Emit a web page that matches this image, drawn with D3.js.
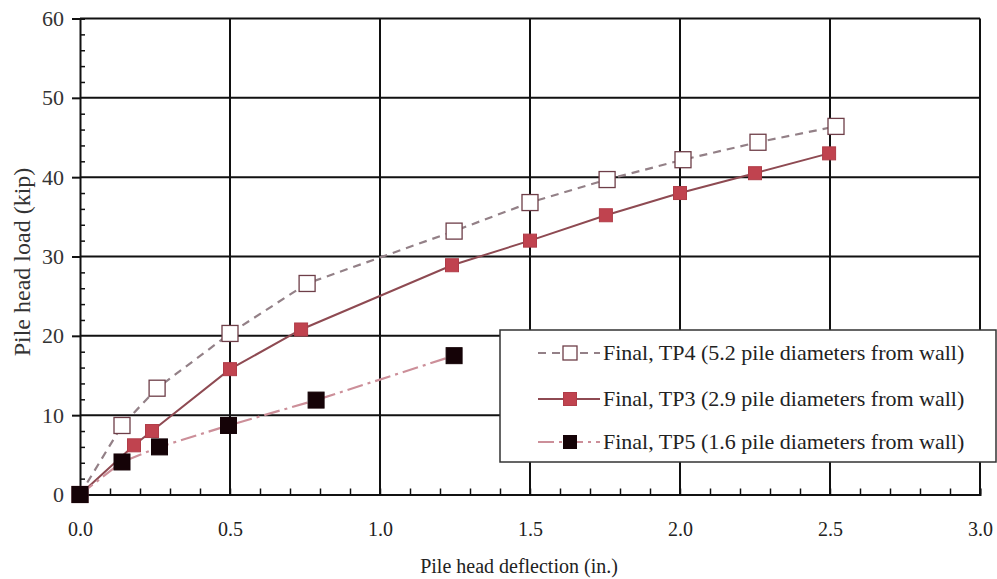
<!DOCTYPE html>
<html><head><meta charset="utf-8">
<script src="https://cdn.jsdelivr.net/npm/d3@7"></script>
<style>body{margin:0;background:#fff}svg{display:block}text{font-family:"Liberation Serif","DejaVu Serif",serif}</style>
</head><body>
<script>
// ---- data ----
const xTicks = [0, 0.5, 1.0, 1.5, 2.0, 2.5, 3.0];
const yTicks = [0, 10, 20, 30, 40, 50, 60];
const tp4X = [0, 0.14, 0.257, 0.5, 0.757, 1.247, 1.5, 1.757, 2.01, 2.26, 2.52];
const tp4Y = [0, 8.7, 13.4, 20.3, 26.6, 33.2, 36.8, 39.7, 42.2, 44.4, 46.4];
const tp3X = [0, 0.18, 0.24, 0.5, 0.737, 1.24, 1.5, 1.753, 2.0, 2.25, 2.497];
const tp3Y = [0, 6.2, 8.0, 15.8, 20.8, 28.9, 32.0, 35.2, 38.0, 40.5, 43.0];
const tp5X = [0, 0.14, 0.265, 0.495, 0.787, 1.247];
const tp5Y = [0, 4.1, 6.0, 8.7, 11.9, 17.5];
const legendLabels = [
  "Final, TP4 (5.2 pile diameters from wall)",
  "Final, TP3 (2.9 pile diameters from wall)",
  "Final, TP5 (1.6 pile diameters from wall)"
];
const xTitle = "Pile head deflection (in.)";
const yTitle = "Pile head load (kip)";

// ---- drawing ----
const W = 997, H = 579;
const svg = d3.select("body").append("svg").attr("width", W).attr("height", H);
const x = d3.scaleLinear().domain([0, 3]).range([80, 980]);
const y = d3.scaleLinear().domain([0, 60]).range([494.5, 18.5]);
const serif = '"Liberation Serif", "DejaVu Serif", serif';

// grid
const grid = svg.append("g").attr("stroke", "#111").attr("stroke-width", 2);
xTicks.slice(1).forEach(t => grid.append("line").attr("x1", x(t)).attr("x2", x(t)).attr("y1", y(0)).attr("y2", y(60)));
yTicks.slice(1).forEach(t => grid.append("line").attr("x1", x(0)).attr("x2", x(3)).attr("y1", y(t)).attr("y2", y(t)));

// axes
const xAxis = svg.append("g").attr("transform", `translate(0,${y(0)})`)
  .call(d3.axisBottom(x).tickValues(d3.range(0, 31).map(d => d / 10)).tickSize(-6).tickFormat(""));
xAxis.select(".domain").attr("stroke", "#111").attr("stroke-width", 2);
xAxis.selectAll(".tick line").attr("stroke", "#111").attr("stroke-width", 1.5);
svg.append("g").attr("transform", `translate(0,${y(0)})`)
  .call(d3.axisBottom(x).tickValues(xTicks).tickSize(0).tickPadding(27).tickFormat(d3.format(".1f")))
  .call(g => g.select(".domain").remove())
  .call(g => g.attr("font-family", null))
  .selectAll("text").style("font-family", serif).attr("font-size", 20).attr("fill", "#222");

const yAxis = svg.append("g").attr("transform", `translate(${x(0)},0)`)
  .call(d3.axisLeft(y).tickValues(d3.range(0, 61, 2).filter(v => v % 10 !== 0)).tickSize(-5).tickFormat(""));
yAxis.select(".domain").attr("stroke", "#111").attr("stroke-width", 2);
yAxis.selectAll(".tick line").attr("stroke", "#111").attr("stroke-width", 1.5);
svg.append("g").attr("transform", `translate(${x(0)},0)`)
  .call(d3.axisLeft(y).tickValues(yTicks).tickSize(8).tickPadding(8).tickFormat(d3.format("d")))
  .call(g => g.select(".domain").remove())
  .call(g => g.attr("font-family", null))
  .call(g => g.selectAll(".tick line").attr("stroke", "#111").attr("stroke-width", 2))
  .selectAll("text").style("font-family", serif).attr("font-size", 22).attr("fill", "#333");

svg.append("text").attr("x", 519).attr("y", 573).attr("text-anchor", "middle")
  .style("font-family", serif).attr("font-size", 20).attr("fill", "#222").text(xTitle);
svg.append("text").attr("transform", "translate(30,262) rotate(-90)").attr("text-anchor", "middle")
  .style("font-family", serif).attr("font-size", 24).attr("fill", "#333").text(yTitle);

// series
const series = [
  {xs: tp4X, ys: tp4Y, line: "#938087", dash: "8,6", lw: 2.2, size: 16, fill: "#fff", stroke: "#6e3e48"},
  {xs: tp3X, ys: tp3Y, line: "#8e4a52", dash: null, lw: 2, size: 13, fill: "#c0434f", stroke: "#b03c48"},
  {xs: tp5X, ys: tp5Y, line: "#cc8f99", dash: "16,5,3,5", lw: 2.2, size: 16, fill: "#150307", stroke: "#150307"}
];
const lineGen = d3.line();
series.forEach(s => {
  const pts = s.xs.map((v, i) => [x(v), y(s.ys[i])]);
  svg.append("path").attr("d", lineGen(pts)).attr("fill", "none")
    .attr("stroke", s.line).attr("stroke-width", s.lw).attr("stroke-dasharray", s.dash);
  svg.append("g").selectAll("rect").data(pts).join("rect")
    .attr("x", d => d[0] - s.size / 2).attr("y", d => d[1] - s.size / 2)
    .attr("width", s.size).attr("height", s.size)
    .attr("fill", s.fill).attr("stroke", s.stroke).attr("stroke-width", s.fill === "#fff" ? 1.3 : 1);
});

// legend
const lg = svg.append("g");
lg.append("rect").attr("x", 500).attr("y", 330).attr("width", 496).attr("height", 132)
  .attr("fill", "#fff").attr("stroke", "#333").attr("stroke-width", 1.5);
const rowsY = [353, 399, 442];
series.forEach((s, i) => {
  const yy = rowsY[i];
  lg.append("line").attr("x1", 538).attr("x2", 600).attr("y1", yy).attr("y2", yy)
    .attr("stroke", s.line).attr("stroke-width", s.lw).attr("stroke-dasharray", s.dash);
  const sz = i === 0 ? 14 : 13;
  lg.append("rect").attr("x", 570 - sz / 2).attr("y", yy - sz / 2).attr("width", sz).attr("height", sz)
    .attr("fill", s.fill).attr("stroke", s.stroke).attr("stroke-width", s.fill === "#fff" ? 1.3 : 1);
  lg.append("text").attr("x", 603).attr("y", yy + 7).style("font-family", serif).attr("font-size", 22)
    .attr("fill", "#222").text(legendLabels[i]);
});
</script>
</body></html>
